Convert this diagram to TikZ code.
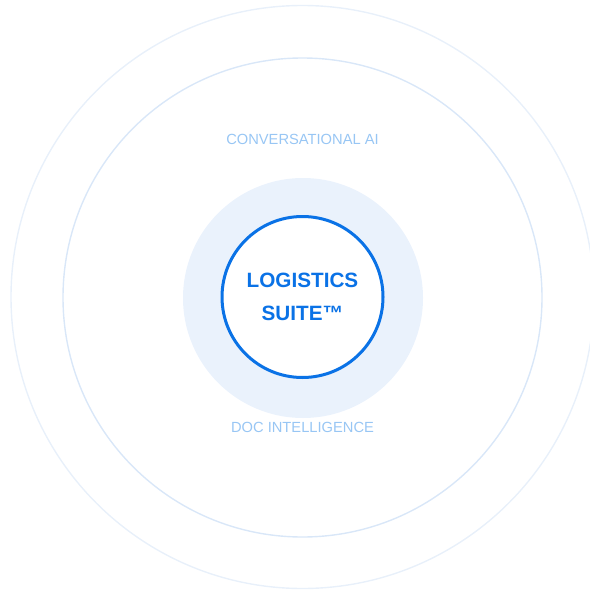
\documentclass[tikz,border=0pt]{standalone}
\usepackage{fontspec}
\setmainfont{Liberation Sans}
\definecolor{suiteblue}{HTML}{0A72E6}
\definecolor{haloblue}{HTML}{EAF2FC}
\definecolor{ringblue}{HTML}{D9E7F8}
\definecolor{ringpale}{HTML}{E8F0FA}
\definecolor{labelblue}{HTML}{98C6F4}
\usetikzlibrary{positioning}
\tikzset{
	orbit/.style={circle, draw=ringblue, line width=1.4pt, inner sep=0pt},
	halo/.style={circle, fill=haloblue, inner sep=0pt, minimum size=240pt},
	core/.style={circle, draw=suiteblue, line width=3pt, fill=white, inner sep=0pt,
		minimum size=161pt, align=center, text=suiteblue,
		font=\fontsize{20.7}{32.5}\selectfont\bfseries},
	tier/.style={text=labelblue, inner sep=0pt, font=\fontsize{14.7}{17}\selectfont}
}

\begin{document}
\begin{tikzpicture}[x=1pt, y=-1pt]
	\useasboundingbox (0,0) rectangle (589,591);
	\node[orbit, draw=ringpale, minimum size=583pt] (outer) at (302.5,297) {};
	\node[orbit, minimum size=479pt] (inner) at (302.5,297.5) {};
	\node[halo] (glow) at (303,298) {};
	\node[core] (suite) at (302.5,297) {LOGISTICS\\SUITE™};
	\node[tier] (conv) at (302.5,139) {CONVERSATIONAL AI};
	\node[tier] (doc) at (302.5,427.5) {DOC INTELLIGENCE};
\end{tikzpicture}
\end{document}
